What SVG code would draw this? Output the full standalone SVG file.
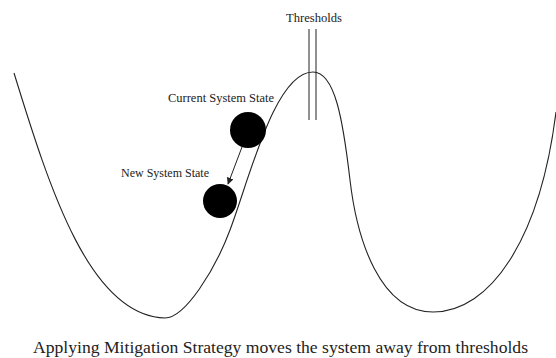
<svg xmlns="http://www.w3.org/2000/svg" width="556" height="358" viewBox="0 0 556 358">
<style>
.lbl{font-family:"Liberation Serif","Times New Roman",serif;fill:#222;}
.curve{fill:none;stroke:#222;stroke-width:1.1;}
.thr{stroke:#222;stroke-width:1;}
.state{fill:#000;}
.conn{stroke:#222;stroke-width:1;fill:none;}
</style>
<defs>
<marker id="arr" viewBox="0 0 10 10" refX="9" refY="5" markerWidth="7" markerHeight="7" orient="auto" markerUnits="userSpaceOnUse">
<path d="M0,0 L10,5 L0,10 z" fill="#222"/>
</marker>
</defs>
<rect width="556" height="358" fill="#fff"/>
<g id="landscape">
<path class="curve" d="M14,73 C50,190 90,316 165,318 C185,318 215,270 230,230 C250,177 275,72 313,72 C335,72 343,120 350,180 C357,240 380,312 433,312 C490,312 540,240 556,112"/>
</g>
<g id="thresholds">
<line class="thr" x1="309" y1="29" x2="309" y2="120"/>
<line class="thr" x1="316" y1="29" x2="316" y2="120"/>
<text class="lbl" x="314" y="22" font-size="11.5" text-anchor="middle" textLength="56" lengthAdjust="spacingAndGlyphs">Thresholds</text>
</g>
<g id="current-state">
<circle class="state" cx="248" cy="130" r="18"/>
<text class="lbl" x="221" y="102" font-size="11.5" text-anchor="middle" textLength="106" lengthAdjust="spacingAndGlyphs">Current System State</text>
</g>
<g id="new-state">
<circle class="state" cx="220" cy="201" r="17"/>
<text class="lbl" x="165" y="177" font-size="11.5" text-anchor="middle" textLength="88" lengthAdjust="spacingAndGlyphs">New System State</text>
</g>
<g id="connectors">
<line class="conn" x1="242" y1="147" x2="228" y2="184" marker-end="url(#arr)"/>
</g>
<g id="caption">
<text class="lbl" x="280.5" y="353" font-size="16.5" text-anchor="middle" textLength="495" lengthAdjust="spacingAndGlyphs">Applying Mitigation Strategy moves the system away from thresholds</text>
</g>
</svg>
